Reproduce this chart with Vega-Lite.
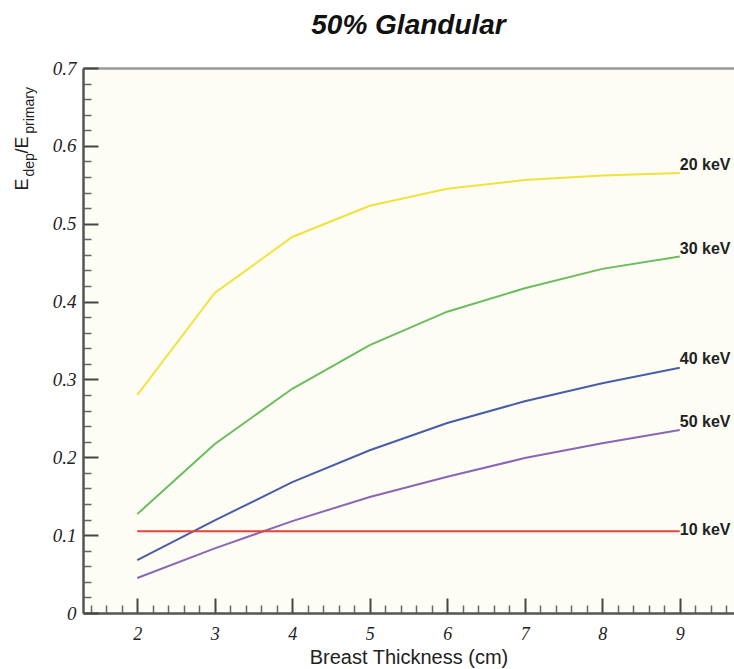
{
  "$schema": "https://vega.github.io/schema/vega-lite/v6.json",
  "width": 651,
  "height": 545,
  "autosize": "none",
  "padding": {"left": 83, "top": 68, "right": 0, "bottom": 56},
  "background": "white",
  "view": {"fill": "#fdfdf6", "stroke": null},
  "title": {
    "text": "50% Glandular",
    "anchor": "middle",
    "font": "Liberation Sans",
    "fontSize": 28,
    "fontStyle": "italic",
    "fontWeight": "bold",
    "color": "#111",
    "offset": 19
  },
  "datasets": {
    "lines": [
      {"keV": "10 keV", "t": 2, "v": 0.105}, {"keV": "10 keV", "t": 3, "v": 0.105}, {"keV": "10 keV", "t": 4, "v": 0.105}, {"keV": "10 keV", "t": 5, "v": 0.105},
      {"keV": "10 keV", "t": 6, "v": 0.105}, {"keV": "10 keV", "t": 7, "v": 0.105}, {"keV": "10 keV", "t": 8, "v": 0.105}, {"keV": "10 keV", "t": 9, "v": 0.105},
      {"keV": "20 keV", "t": 2, "v": 0.280}, {"keV": "20 keV", "t": 3, "v": 0.411}, {"keV": "20 keV", "t": 4, "v": 0.483}, {"keV": "20 keV", "t": 5, "v": 0.523},
      {"keV": "20 keV", "t": 6, "v": 0.545}, {"keV": "20 keV", "t": 7, "v": 0.556}, {"keV": "20 keV", "t": 8, "v": 0.562}, {"keV": "20 keV", "t": 9, "v": 0.565},
      {"keV": "30 keV", "t": 2, "v": 0.127}, {"keV": "30 keV", "t": 3, "v": 0.217}, {"keV": "30 keV", "t": 4, "v": 0.288}, {"keV": "30 keV", "t": 5, "v": 0.344},
      {"keV": "30 keV", "t": 6, "v": 0.387}, {"keV": "30 keV", "t": 7, "v": 0.417}, {"keV": "30 keV", "t": 8, "v": 0.442}, {"keV": "30 keV", "t": 9, "v": 0.458},
      {"keV": "40 keV", "t": 2, "v": 0.068}, {"keV": "40 keV", "t": 3, "v": 0.119}, {"keV": "40 keV", "t": 4, "v": 0.168}, {"keV": "40 keV", "t": 5, "v": 0.209},
      {"keV": "40 keV", "t": 6, "v": 0.244}, {"keV": "40 keV", "t": 7, "v": 0.272}, {"keV": "40 keV", "t": 8, "v": 0.295}, {"keV": "40 keV", "t": 9, "v": 0.315},
      {"keV": "50 keV", "t": 2, "v": 0.045}, {"keV": "50 keV", "t": 3, "v": 0.083}, {"keV": "50 keV", "t": 4, "v": 0.118}, {"keV": "50 keV", "t": 5, "v": 0.149},
      {"keV": "50 keV", "t": 6, "v": 0.175}, {"keV": "50 keV", "t": 7, "v": 0.199}, {"keV": "50 keV", "t": 8, "v": 0.218}, {"keV": "50 keV", "t": 9, "v": 0.235}
    ],
    "labels": [
      {"keV": "20 keV", "t": 9, "v": 0.575},
      {"keV": "30 keV", "t": 9, "v": 0.467},
      {"keV": "40 keV", "t": 9, "v": 0.326},
      {"keV": "50 keV", "t": 9, "v": 0.245},
      {"keV": "10 keV", "t": 9, "v": 0.106}
    ]
  },
  "layer": [
    {
      "data": {"name": "lines"},
      "transform": [{"filter": "datum.keV != '10 keV'"}],
      "mark": {"type": "line", "strokeWidth": 2},
      "encoding": {
        "x": {
          "field": "t", "type": "quantitative",
          "scale": {"domain": [1.3, 9.7], "nice": false, "zero": false},
          "axis": {
            "orient": "bottom",
            "values": [2, 3, 4, 5, 6, 7, 8, 9],
            "grid": false,
            "domainColor": "#555", "domainWidth": 2,
            "tickColor": "#444", "tickWidth": 2, "tickSize": -15,
            "labelFont": "Liberation Serif", "labelFontStyle": "italic", "labelFontSize": 18, "labelColor": "#222",
            "labelPadding": 27, "labelBaseline": "top",
            "title": "Breast Thickness (cm)",
            "titleFont": "Liberation Sans", "titleFontSize": 20, "titleFontWeight": "normal", "titleColor": "#222",
            "titleBaseline": "alphabetic", "titleY": 50
          }
        },
        "y": {
          "field": "v", "type": "quantitative",
          "scale": {"domain": [0, 0.7], "nice": false},
          "axis": {
            "orient": "left",
            "values": [0, 0.1, 0.2, 0.3, 0.4, 0.5, 0.6, 0.7],
            "labelExpr": "datum.value == 0 ? '0' : format(datum.value, '.1f')",
            "grid": false,
            "domainColor": "#555", "domainWidth": 2,
            "tickColor": "#444", "tickWidth": 2, "tickSize": -15,
            "labelFont": "Liberation Serif", "labelFontStyle": "italic", "labelFontSize": 19, "labelColor": "#222",
            "labelPadding": 22,
            "title": "E\u00a0\u00a0\u00a0\u00a0\u00a0/E",
            "titleFont": "Liberation Sans", "titleFontSize": 18, "titleFontWeight": "normal", "titleColor": "#222",
            "titleAngle": -90, "titleAlign": "left", "titleBaseline": "alphabetic",
            "titleX": -56, "titleY": 122
          }
        },
        "color": {
          "field": "keV", "type": "nominal",
          "scale": {
            "domain": ["10 keV", "20 keV", "30 keV", "40 keV", "50 keV"],
            "range": ["#e2453c", "#f1e23c", "#6abd5a", "#4a5da8", "#8a66b5"]
          },
          "legend": null
        }
      }
    },
    {
      "data": {"name": "lines"},
      "transform": [{"filter": "datum.keV == '10 keV'"}],
      "mark": {"type": "line", "strokeWidth": 2},
      "encoding": {
        "x": {
          "field": "t", "type": "quantitative",
          "axis": {
            "orient": "bottom",
            "values": [1.4, 1.6, 1.8, 2.2, 2.4, 2.6, 2.8, 3.2, 3.4, 3.6, 3.8, 4.2, 4.4, 4.6, 4.8, 5.2, 5.4, 5.6, 5.8, 6.2, 6.4, 6.6, 6.8, 7.2, 7.4, 7.6, 7.8, 8.2, 8.4, 8.6, 8.8, 9.2, 9.4, 9.6],
            "grid": false, "labels": false, "title": null,
            "domainColor": "#555", "domainWidth": 2,
            "tickColor": "#666", "tickWidth": 1.5, "tickSize": -8
          }
        },
        "y": {
          "field": "v", "type": "quantitative",
          "axis": {
            "orient": "left",
            "values": [0.02, 0.04, 0.06, 0.08, 0.12, 0.14, 0.16, 0.18, 0.22, 0.24, 0.26, 0.28, 0.32, 0.34, 0.36, 0.38, 0.42, 0.44, 0.46, 0.48, 0.52, 0.54, 0.56, 0.58, 0.62, 0.64, 0.66, 0.68],
            "grid": false, "labels": false,
            "domainColor": "#555", "domainWidth": 2,
            "tickColor": "#666", "tickWidth": 1.5, "tickSize": -8,
            "title": "dep\u00a0\u00a0\u00a0\u00a0\u00a0primary",
            "titleFont": "Liberation Sans", "titleFontSize": 14, "titleFontWeight": "normal", "titleColor": "#222",
            "titleAngle": -90, "titleAlign": "left", "titleBaseline": "alphabetic",
            "titleX": -50, "titleY": 108
          }
        },
        "color": {"field": "keV", "type": "nominal", "legend": null}
      }
    },
    {
      "data": {"name": "labels"},
      "mark": {"type": "text", "align": "left", "baseline": "middle", "font": "Liberation Sans", "fontWeight": "bold", "fontSize": 16, "color": "#222"},
      "encoding": {
        "x": {
          "field": "t", "type": "quantitative",
          "axis": {
            "orient": "top", "ticks": false, "labels": false, "grid": false, "title": null,
            "domainColor": "#999", "domainWidth": 2.5
          }
        },
        "y": {"field": "v", "type": "quantitative", "axis": null},
        "text": {"field": "keV"}
      }
    }
  ],
  "resolve": {"axis": {"x": "independent", "y": "independent"}}
}
